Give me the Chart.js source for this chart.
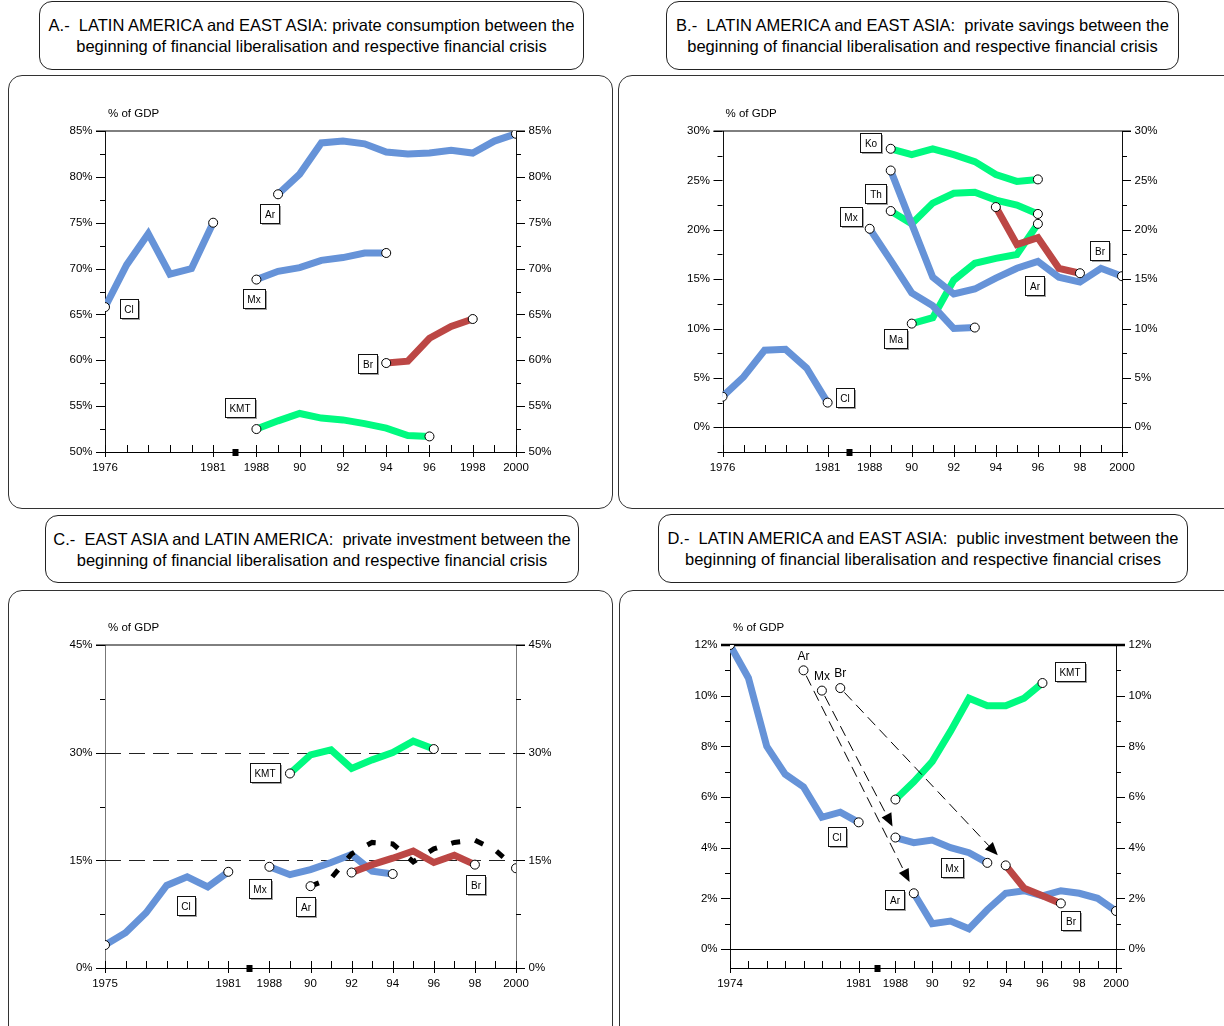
<!DOCTYPE html>
<html>
<head>
<meta charset="utf-8">
<script src="https://cdn.jsdelivr.net/npm/chart.js@4.4.1/dist/chart.umd.min.js"></script>
<style>
    body { margin: 0; width: 1224px; height: 1026px; position: relative; overflow: hidden; background: #fff;
           font-family: 'Liberation Sans', Arial, Helvetica, sans-serif; }
    .title { position: absolute; box-sizing: border-box; border: 1px solid #222; border-radius: 13px;
             display: flex; align-items: center; justify-content: center; text-align: center;
             font-size: 16.5px; line-height: 21px; white-space: pre; color: #000; padding-top: 1px; }
    .panel { position: absolute; box-sizing: border-box; border: 1px solid #333; border-radius: 14px; }
    canvas { position: absolute; }
</style>
</head>
<body>
<div class="title" style="left:39px;top:1px;width:545px;height:69px">A.-  LATIN AMERICA and EAST ASIA: private consumption between the
beginning of financial liberalisation and respective financial crisis</div>
<div class="title" style="left:666px;top:1px;width:513px;height:69px">B.-  LATIN AMERICA and EAST ASIA:  private savings between the
beginning of financial liberalisation and respective financial crisis</div>
<div class="title" style="left:45px;top:515px;width:534px;height:68px">C.-  EAST ASIA and LATIN AMERICA:  private investment between the
beginning of financial liberalisation and respective financial crisis</div>
<div class="title" style="left:658px;top:514px;width:530px;height:69px">D.-  LATIN AMERICA and EAST ASIA:  public investment between the
beginning of financial liberalisation and respective financial crises</div>

<div class="panel" style="left:8px;top:75px;width:605px;height:434px"></div>
<div class="panel" style="left:618px;top:75px;width:620px;height:434px"></div>
<div class="panel" style="left:8px;top:590px;width:605px;height:450px"></div>
<div class="panel" style="left:619px;top:590px;width:620px;height:450px"></div>

<canvas id="chartA" width="604" height="434" style="left:8px;top:75px"></canvas>
<canvas id="chartB" width="606" height="434" style="left:618px;top:75px"></canvas>
<canvas id="chartC" width="604" height="436" style="left:8px;top:590px"></canvas>
<canvas id="chartD" width="604" height="436" style="left:620px;top:590px"></canvas>

<script>
// --- Data --- //
const BREAK = 'break';

// A.- private consumption (% of GDP)
const yearsA = [1976, 1977, 1978, 1979, 1980, 1981, BREAK, 1988, 1989, 1990, 1991, 1992, 1993, 1994, 1995, 1996, 1997, 1998, 1999, 2000];
const xTicksA = [1976, 1981, 1988, 1990, 1992, 1994, 1996, 1998, 2000];
const xTextA = ['1976', '1981', '1988', '90', '92', '94', '96', '1998', '2000'];
const yTicksA = [50, 55, 60, 65, 70, 75, 80, 85];
const consCl = [65.8, 70.4, 73.8, 69.4, 70.0, 75.0];                                        // from 1976
const consAr = [78.1, 80.3, 83.7, 83.9, 83.6, 82.7, 82.5, 82.6, 82.9, 82.6, 83.9, 84.7];    // from 1989
const consMx = [68.8, 69.7, 70.1, 70.9, 71.2, 71.7, 71.7];                                  // from 1988
const consBr = [59.7, 59.9, 62.4, 63.7, 64.5];                                              // from 1994
const consKMT = [52.5, 53.4, 54.2, 53.7, 53.5, 53.1, 52.6, 51.8, 51.7];                     // from 1988

// B.- private savings (% of GDP)
const yearsB = yearsA;
const xTicksB = [1976, 1981, 1988, 1990, 1992, 1994, 1996, 1998, 2000];
const xTextB = ['1976', '1981', '1988', '90', '92', '94', '96', '98', '2000'];
const yTicksB = [0, 5, 10, 15, 20, 25, 30];
const savCl = [3.1, 5.1, 7.8, 7.9, 6.0, 2.5];                                               // from 1976
const savKo = [28.2, 27.6, 28.2, 27.6, 26.9, 25.6, 24.9, 25.1];                             // from 1989
const savTh = [21.9, 20.6, 22.7, 23.7, 23.8, 23.0, 22.5, 21.6];                             // from 1989
const savAr = [26.0, 20.6, 15.2, 13.5, 14.0, 15.1, 16.1, 16.8, 15.2, 14.7, 16.1, 15.3];     // from 1989
const savMx = [20.1, 16.9, 13.6, 12.3, 10.0, 10.1];                                         // from 1988
const savMa = [10.5, 11.1, 14.9, 16.6, 17.1, 17.5, 20.6];                                   // from 1990
const savBr = [22.3, 18.5, 19.2, 16.1, 15.6];                                               // from 1994

// C.- private investment (% of GDP)
const yearsC = [1975, 1976, 1977, 1978, 1979, 1980, 1981, BREAK, 1988, 1989, 1990, 1991, 1992, 1993, 1994, 1995, 1996, 1997, 1998, 1999, 2000];
const xTicksC = [1975, 1981, 1988, 1990, 1992, 1994, 1996, 1998, 2000];
const xTextC = ['1975', '1981', '1988', '90', '92', '94', '96', '98', '2000'];
const yTicksC = [0, 15, 30, 45];
const invCl = [3.2, 4.9, 7.7, 11.5, 12.7, 11.3, 13.4];                                      // from 1975
const invMx = [14.1, 13.0, 13.7, 14.7, 15.8, 13.5, 13.1];                                   // from 1988
const invKMT = [27.1, 29.7, 30.4, 27.8, 29.0, 30.0, 31.6, 30.5];                            // from 1989
const invBr = [13.3, 14.4, 15.3, 16.3, 14.7, 15.7, 14.4];                                   // from 1992
const invAr = [11.4, 12.5, 15.9, 17.5, 17.3, 14.8, 16.6, 17.5, 17.8, 16.4, 13.9];           // from 1990

// D.- public investment (% of GDP)
const yearsD = [1974, 1975, 1976, 1977, 1978, 1979, 1980, 1981, BREAK, 1988, 1989, 1990, 1991, 1992, 1993, 1994, 1995, 1996, 1997, 1998, 1999, 2000];
const xTicksD = [1974, 1981, 1988, 1990, 1992, 1994, 1996, 1998, 2000];
const xTextD = ['1974', '1981', '1988', '90', '92', '94', '96', '98', '2000'];
const yTicksD = [0, 2, 4, 6, 8, 10, 12];
const pubCl = [12.0, 10.7, 8.0, 6.9, 6.4, 5.2, 5.4, 5.0];                                   // from 1974
const pubMx = [4.4, 4.2, 4.3, 4.0, 3.8, 3.4];                                               // from 1988
const pubKMT = [5.9, 6.6, 7.4, 8.6, 9.9, 9.6, 9.6, 9.9, 10.5];                              // from 1988
const pubAr = [2.2, 1.0, 1.1, 0.8, 1.55, 2.2, 2.3, 2.1, 2.3, 2.2, 2.0, 1.5];                // from 1989
const pubBr = [3.3, 2.4, 2.1, 1.8];                                                         // from 1994
// liberalisation markers (Ar, Mx, Br) and where their arrows end (x as year slot index)
const libNames = ['Ar', 'Mx', 'Br'];
const libYears = [1978, 1979, 1980];
const libValues = [11.0, 10.2, 10.3];
const libArrowX = [9.77, 8.84, 14.57];
const libArrowY = [2.64, 4.84, 3.70];

// --- Styles --- //
const FONT = "'Liberation Sans', Arial, Helvetica, sans-serif";
const BLUE = '#6693d8';
const GREEN = '#00fa80';
const RED = '#bc4745';
const BLACK = '#000';

// --- Helpers --- //
function series(years, start, values, color, extra = {}) {
    const i0 = years.indexOf(start);
    const last = values.length - 1;
    return Object.assign({
        data: values.map((v, i) => ({ x: i0 + i, y: v })),
        borderColor: color,
        borderWidth: 7,
        tension: 0,
        fill: false,
        pointRadius: ctx => (ctx.dataIndex === 0 || ctx.dataIndex === last) ? 4.5 : 0,
        pointBackgroundColor: '#fff',
        pointBorderColor: '#000',
        pointBorderWidth: 1
    }, extra);
}

function seg(ctx, x0, y0, x1, y1) {
    ctx.beginPath();
    ctx.moveTo(x0, y0);
    ctx.lineTo(x1, y1);
    ctx.stroke();
}

function arrow(ctx, x0, y0, x1, y1) {
    const ang = Math.atan2(y1 - y0, x1 - x0);
    const c = Math.cos(ang), s = Math.sin(ang);
    const len = 13, half = 5.5;
    const bx = x1 - c * len, by = y1 - s * len;
    ctx.setLineDash([11, 6]);
    seg(ctx, x0 + c * 6, y0 + s * 6, bx, by);
    ctx.setLineDash([]);
    ctx.beginPath();
    ctx.moveTo(x1, y1);
    ctx.lineTo(bx - s * half, by + c * half);
    ctx.lineTo(bx + s * half, by - c * half);
    ctx.closePath();
    ctx.fill();
}

// --- Frame, ticks and annotations --- //
const framePlugin = {
    id: 'frame',
    beforeDatasetsDraw(chart, args, o) {
        const { ctx, chartArea: a, scales: { x, y } } = chart;
        ctx.save();
        ctx.lineWidth = 1;
        ctx.strokeStyle = o.sideColor;
        seg(ctx, Math.round(a.left) + 0.5, a.top, Math.round(a.left) + 0.5, a.bottom);
        seg(ctx, Math.round(a.right) + 0.5, a.top, Math.round(a.right) + 0.5, a.bottom);
        ctx.strokeStyle = BLACK;
        seg(ctx, a.left, Math.round(a.bottom) + 0.5, a.right + 6, Math.round(a.bottom) + 0.5);
        ctx.lineWidth = o.topWidth;
        seg(ctx, a.left - 9, a.top, a.right + 9, a.top);
        ctx.lineWidth = 1;

        // y ticks, both sides
        const first = Math.ceil(o.yMin / o.minor - 1e-9) * o.minor;
        for (let v = first; v <= o.yMax + 1e-9; v += o.minor) {
            const py = Math.round(y.getPixelForValue(v)) + 0.5;
            const major = o.yTicks.some(t => Math.abs(t - v) < 1e-6);
            const len = major ? 9 : 5;
            seg(ctx, a.left - len, py, a.left, py);
            seg(ctx, a.right, py, a.right + len, py);
        }

        // zero line and dashed reference lines
        if (o.zeroLine) {
            const py = Math.round(y.getPixelForValue(0)) + 0.5;
            seg(ctx, a.left, py, a.right, py);
        }
        ctx.setLineDash([16, 8]);
        ctx.strokeStyle = '#222';
        o.dashLines.forEach(v => {
            const py = Math.round(y.getPixelForValue(v)) + 0.5;
            seg(ctx, a.left, py, a.right, py);
        });
        ctx.setLineDash([]);
        ctx.strokeStyle = BLACK;

        // x ticks
        const bottom = Math.round(a.bottom);
        o.years.forEach((yr, i) => {
            const px = Math.round(x.getPixelForValue(i)) + 0.5;
            if (yr === BREAK) {
                ctx.fillStyle = BLACK;
                ctx.fillRect(px - 3, bottom - 3, 6, 7);
                return;
            }
            const major = o.xTicks.includes(yr);
            seg(ctx, px, bottom - 7, px, bottom + (major ? 5 : 0));
        });

        // axis unit
        ctx.fillStyle = BLACK;
        ctx.font = '11.5px ' + FONT;
        ctx.textAlign = 'left';
        ctx.textBaseline = 'middle';
        ctx.fillText('% of GDP', a.left + 3, a.top - 17);
        ctx.restore();
    },
    afterDatasetsDraw(chart, args, o) {
        const { ctx, scales: { x, y } } = chart;
        ctx.save();
        ctx.textAlign = 'center';
        ctx.textBaseline = 'middle';

        // arrows from liberalisation markers
        o.arrows.forEach(ar => {
            ctx.strokeStyle = BLACK;
            ctx.fillStyle = BLACK;
            ctx.lineWidth = 1;
            arrow(ctx, x.getPixelForValue(ar.fromX), y.getPixelForValue(ar.fromY),
                x.getPixelForValue(ar.toX), y.getPixelForValue(ar.toY));
        });

        // plain labels over markers
        ctx.font = '12px ' + FONT;
        o.freeLabels.forEach(l => {
            ctx.fillStyle = BLACK;
            ctx.fillText(l.text, x.getPixelForValue(l.x), y.getPixelForValue(l.y) - 14);
        });

        // boxed country labels
        ctx.font = '10px ' + FONT;
        o.boxes.forEach(b => {
            const cx = Math.round(x.getPixelForValue(b.x));
            const cy = Math.round(y.getPixelForValue(b.y));
            const w = Math.max(18, Math.round(ctx.measureText(b.text).width) + 9);
            const h = 19;
            const bx = cx - Math.round(w / 2) + 0.5, by = cy - Math.round(h / 2) + 0.5;
            ctx.fillStyle = '#a0a0a0';
            ctx.fillRect(bx + 1.5, by + 1.5, w, h);
            ctx.fillStyle = '#fff';
            ctx.fillRect(bx, by, w, h);
            ctx.strokeStyle = '#111';
            ctx.lineWidth = 1;
            ctx.strokeRect(bx, by, w, h);
            ctx.fillStyle = BLACK;
            ctx.fillText(b.text, cx, cy + 1);
        });
        ctx.restore();
    }
};

// --- Chart builder --- //
function makeChart(id, p) {
    const canvas = document.getElementById(id);
    const W = canvas.width, H = canvas.height;
    const yW = 45, xH = 30;
    const tickIdx = p.xTicks.map(yr => p.years.indexOf(yr));
    const yAxis = pos => ({
        type: 'linear',
        position: pos,
        min: p.yMin,
        max: p.yMax,
        grid: { display: false, drawTicks: false },
        border: { display: false },
        afterBuildTicks: s => { s.ticks = p.yTicks.map(v => ({ value: v })); },
        afterFit: s => { s.width = yW; },
        ticks: {
            padding: 12.5,
            color: BLACK,
            font: { family: FONT, size: 11.5 },
            callback: v => v + '%'
        }
    });
    return new Chart(canvas, {
        type: 'line',
        data: { datasets: p.datasets },
        plugins: [framePlugin],
        options: {
            responsive: false,
            animation: false,
            layout: {
                padding: {
                    left: p.area.left - yW,
                    right: W - p.area.right - yW,
                    top: p.area.top,
                    bottom: H - p.area.bottom - xH
                }
            },
            scales: {
                x: {
                    type: 'linear',
                    min: 0,
                    max: p.years.length - 1,
                    grid: { display: false, drawTicks: false },
                    border: { display: false },
                    afterBuildTicks: s => { s.ticks = tickIdx.map(v => ({ value: v })); },
                    afterFit: s => { s.height = xH; },
                    ticks: {
                        autoSkip: false,
                        maxRotation: 0,
                        minRotation: 0,
                        padding: 8.5,
                        color: BLACK,
                        font: { family: FONT, size: 11.5 },
                        callback: v => p.xText[tickIdx.indexOf(v)]
                    }
                },
                y: yAxis('left'),
                y2: yAxis('right')
            },
            plugins: {
                legend: { display: false },
                tooltip: { enabled: false },
                frame: {
                    years: p.years,
                    xTicks: p.xTicks,
                    yTicks: p.yTicks,
                    yMin: p.yMin,
                    yMax: p.yMax,
                    minor: p.minor,
                    sideColor: p.sideColor || '#111',
                    topWidth: p.topWidth || 1,
                    zeroLine: !!p.zeroLine,
                    dashLines: p.dashLines || [],
                    boxes: p.boxes || [],
                    freeLabels: p.freeLabels || [],
                    arrows: p.arrows || []
                }
            }
        }
    });
}

// --- Panels --- //
makeChart('chartA', {
    years: yearsA, xTicks: xTicksA, xText: xTextA, yTicks: yTicksA,
    yMin: 50, yMax: 85, minor: 2.5,
    area: { left: 97, right: 508, top: 56, bottom: 377 },
    datasets: [
        series(yearsA, 1976, consCl, BLUE),
        series(yearsA, 1989, consAr, BLUE),
        series(yearsA, 1988, consMx, BLUE),
        series(yearsA, 1994, consBr, RED),
        series(yearsA, 1988, consKMT, GREEN)
    ],
    boxes: [
        { text: 'Cl', x: 1.1, y: 65.6 },
        { text: 'Ar', x: 7.65, y: 76.0 },
        { text: 'Mx', x: 6.88, y: 66.7 },
        { text: 'Br', x: 12.14, y: 59.6 },
        { text: 'KMT', x: 6.23, y: 54.8 }
    ]
});

makeChart('chartB', {
    years: yearsB, xTicks: xTicksB, xText: xTextB, yTicks: yTicksB,
    yMin: -2.5, yMax: 30, minor: 2.5, zeroLine: true,
    area: { left: 104.5, right: 504, top: 56, bottom: 377 },
    datasets: [
        series(yearsB, 1994, savBr, RED),
        series(yearsB, 1989, savAr, BLUE),
        series(yearsB, 1988, savMx, BLUE),
        series(yearsB, 1989, savKo, GREEN),
        series(yearsB, 1989, savTh, GREEN),
        series(yearsB, 1990, savMa, GREEN),
        series(yearsB, 1976, savCl, BLUE)
    ],
    boxes: [
        { text: 'Ko', x: 7.08, y: 28.8 },
        { text: 'Th', x: 7.32, y: 23.6 },
        { text: 'Mx', x: 6.13, y: 21.3 },
        { text: 'Ma', x: 8.27, y: 8.9 },
        { text: 'Cl', x: 5.84, y: 3.0 },
        { text: 'Br', x: 17.96, y: 17.8 },
        { text: 'Ar', x: 14.87, y: 14.3 }
    ]
});

makeChart('chartC', {
    years: yearsC, xTicks: xTicksC, xText: xTextC, yTicks: yTicksC,
    yMin: 0, yMax: 45, minor: 7.5, dashLines: [15, 30], sideColor: '#777',
    area: { left: 97, right: 508, top: 55, bottom: 378 },
    datasets: [
        series(yearsC, 1992, invBr, RED),
        series(yearsC, 1990, invAr, BLACK, { borderWidth: 5, borderDash: [9, 15] }),
        series(yearsC, 1988, invMx, BLUE),
        series(yearsC, 1989, invKMT, GREEN),
        series(yearsC, 1975, invCl, BLUE)
    ],
    boxes: [
        { text: 'KMT', x: 7.8, y: 27.2 },
        { text: 'Mx', x: 7.56, y: 11.0 },
        { text: 'Cl', x: 3.95, y: 8.6 },
        { text: 'Ar', x: 9.8, y: 8.5 },
        { text: 'Br', x: 18.05, y: 11.6 }
    ]
});

const libIdx = libYears.map(yr => yearsD.indexOf(yr));
makeChart('chartD', {
    years: yearsD, xTicks: xTicksD, xText: xTextD, yTicks: yTicksD,
    yMin: -0.75, yMax: 12, minor: 1, zeroLine: true, topWidth: 2.5,
    area: { left: 110, right: 496, top: 55, bottom: 378 },
    datasets: [
        series(yearsD, 1994, pubBr, RED),
        series(yearsD, 1988, pubMx, BLUE),
        series(yearsD, 1989, pubAr, BLUE),
        series(yearsD, 1988, pubKMT, GREEN),
        series(yearsD, 1974, pubCl, BLUE),
        {
            data: libValues.map((v, i) => ({ x: libIdx[i], y: v })),
            showLine: false,
            pointRadius: 4.5,
            pointBackgroundColor: '#fff',
            pointBorderColor: '#000',
            pointBorderWidth: 1
        }
    ],
    freeLabels: libNames.map((n, i) => ({ text: n, x: libIdx[i], y: libValues[i] })),
    arrows: libNames.map((n, i) => ({ fromX: libIdx[i], fromY: libValues[i], toX: libArrowX[i], toY: libArrowY[i] })),
    boxes: [
        { text: 'KMT', x: 18.5, y: 10.94 },
        { text: 'Cl', x: 5.84, y: 4.41 },
        { text: 'Mx', x: 12.06, y: 3.19 },
        { text: 'Ar', x: 8.95, y: 1.93 },
        { text: 'Br', x: 18.55, y: 1.10 }
    ]
});
</script>
</body>
</html>
